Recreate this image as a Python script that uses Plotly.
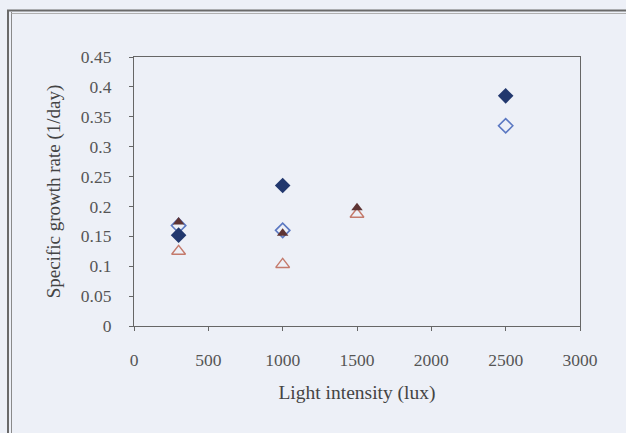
import plotly.graph_objects as go

# Data
x_fd = [300, 1000, 2500]
y_fd = [0.152, 0.235, 0.385]      # filled diamond
x_od = [300, 1000, 2500]
y_od = [0.168, 0.160, 0.335]      # open diamond
x_ft = [300, 1000, 1500]
y_ft = [0.174, 0.155, 0.198]      # filled triangle
x_ot = [300, 1000, 1500]
y_ot = [0.125, 0.103, 0.187]      # open triangle

x_ticks = [0, 500, 1000, 1500, 2000, 2500, 3000]
y_ticks = [0, 0.05, 0.1, 0.15, 0.2, 0.25, 0.3, 0.35, 0.4, 0.45]
y_labels = ["0", "0.05", "0.1", "0.15", "0.2", "0.25", "0.3", "0.35", "0.4", "0.45"]

bg = "#edf0f7"
fig = go.Figure()
fig.add_trace(go.Scatter(x=x_od, y=y_od, mode="markers",
    marker=dict(symbol="diamond-open", size=11, color="#5b78c2", line=dict(width=1.6))))
fig.add_trace(go.Scatter(x=x_ot, y=y_ot, mode="markers",
    marker=dict(symbol="triangle-up-open", size=12, color="#c47a6c", line=dict(width=1.4))))
fig.add_trace(go.Scatter(x=x_ft, y=y_ft, mode="markers",
    marker=dict(symbol="triangle-up", size=10, color="#5e3434")))
fig.add_trace(go.Scatter(x=x_fd, y=y_fd, mode="markers",
    marker=dict(symbol="diamond", size=12, color="#22386e")))

axis_common = dict(showgrid=False, zeroline=False, showline=True, linecolor="#666",
                   linewidth=1.2, mirror=True, ticks="outside", ticklen=4, tickcolor="#666",
                   tickfont=dict(family="Liberation Serif", size=17.5, color="#555"))
fig.update_xaxes(range=[0, 3000], tickvals=x_ticks, ticklabelstandoff=14,
                 title=dict(text="Light intensity (lux)", standoff=16,
                            font=dict(family="Liberation Serif", size=19.5, color="#444")),
                 **axis_common)
fig.update_yaxes(range=[0, 0.45], tickvals=y_ticks, ticktext=y_labels, ticklabelstandoff=14,
                 title=dict(text="Specific growth rate (1/day)", standoff=15,
                            font=dict(family="Liberation Serif", size=19, color="#444")),
                 **axis_common)

L, R, T, B = 134, 46, 57, 107
pw, ph = 626 - L - R, 433 - T - B
def px(x): return (x - L) / pw
def py(y): return 1 + (T - y) / ph

shapes = [
    dict(type="line", xref="paper", yref="paper", x0=px(8), x1=px(8), y0=py(10), y1=py(440),
         line=dict(color="#6a6a6a", width=2)),
    dict(type="line", xref="paper", yref="paper", x0=px(11.5), x1=px(11.5), y0=py(12), y1=py(440),
         line=dict(color="#8a8a8a", width=1)),
    dict(type="line", xref="paper", yref="paper", x0=px(7), x1=px(630), y0=py(10.5), y1=py(10.5),
         line=dict(color="#6a6a6a", width=2)),
    dict(type="line", xref="paper", yref="paper", x0=px(11.5), x1=px(630), y0=py(13.5), y1=py(13.5),
         line=dict(color="#b0b0b0", width=1)),
]

fig.update_layout(width=626, height=433, margin=dict(l=L, r=R, t=T, b=B),
                  paper_bgcolor=bg, plot_bgcolor=bg, showlegend=False, shapes=shapes)
fig.write_html("out.html")
